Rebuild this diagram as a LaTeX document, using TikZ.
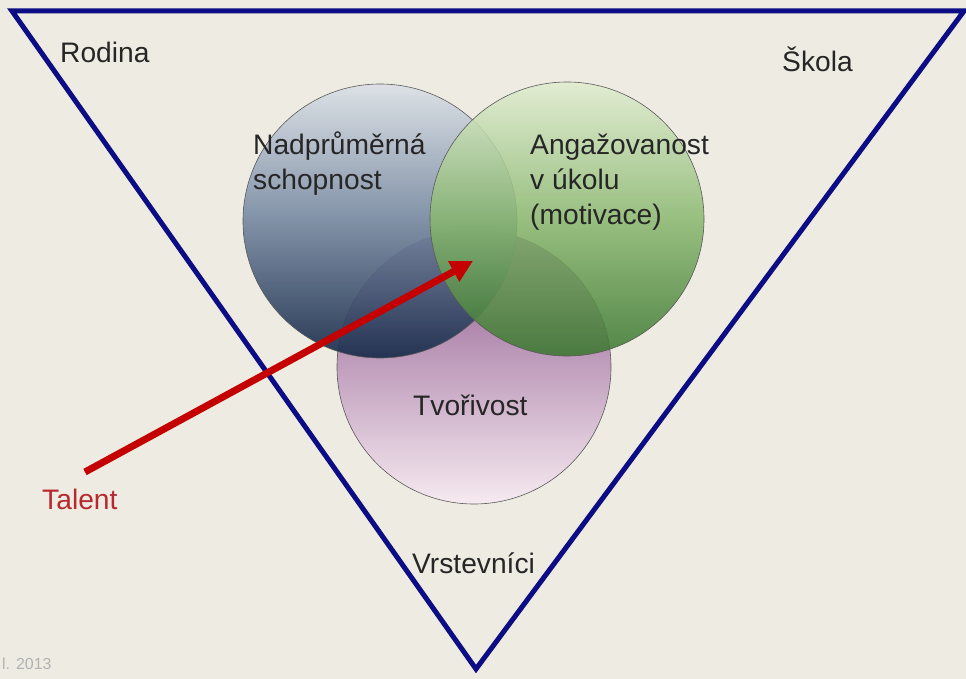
\documentclass[tikz,border=0pt]{standalone}
\usepackage{fontspec}
\setmainfont{Liberation Sans}
\usetikzlibrary{arrows.meta}
\definecolor{bg}{HTML}{EEECE2}
\definecolor{navy}{HTML}{0C0C85}
\definecolor{txt}{HTML}{262626}
\definecolor{talentred}{HTML}{B8282E}
\definecolor{arrowred}{HTML}{C40000}
\tikzset{
  venn/.style={circle, minimum size=274bp, inner sep=0pt, draw=black!65, line width=0.6bp},
  lbl/.style={font=\fontsize{28.3}{34.5}\selectfont, text=txt, inner sep=0pt, anchor=base west},
  tri/.style={draw=navy, line width=5bp, line join=miter},
  talentarrow/.style={draw=arrowred, line width=7bp, -{Triangle[length=22bp,width=22bp]}}
}
\begin{document}
\begin{tikzpicture}[x=1bp,y=-1bp]
  \fill[bg] (0,0) rectangle (966,679);
  \useasboundingbox (0,0) rectangle (966,679);
  % circles
  \node[venn, top color={rgb,255:red,140;green,85;blue,140}, middle color={rgb,255:red,205;green,170;blue,205}, bottom color={rgb,255:red,246;green,234;blue,240}] (tvor) at (474,367) {};
  \node[venn, fill opacity=0.93, top color={rgb,255:red,220;green,225;blue,231}, bottom color={rgb,255:red,26;green,44;blue,76}, middle color={rgb,255:red,120;green,138;blue,162}] (nadp) at (380,221) {};
  \node[venn, fill opacity=0.86, top color={rgb,255:red,224;green,237;blue,208}, bottom color={rgb,255:red,56;green,118;blue,46}, middle color={rgb,255:red,138;green,184;blue,112}] (anga) at (567,219) {};
  % triangle
  \coordinate (tl) at (12,11);
  \coordinate (tr) at (964,11);
  \coordinate (bt) at (476,669);
  \draw[tri] (tl) -- (tr) -- (bt) -- cycle;
  % labels
  \node[lbl] (rodina) at (60,63) {Rodina};
  \node[lbl] (skola) at (782,72) {Škola};
  \node[lbl] (nad1) at (253,155) {Nadprůměrná};
  \node[lbl] (nad2) at (253,190) {schopnost};
  \node[lbl] (ang1) at (530,155) {Angažovanost};
  \node[lbl] (ang2) at (530,190) {v úkolu};
  \node[lbl] (ang3) at (530,224) {(motivace)};
  \node[lbl] (tvlbl) at (413,415) {Tvořivost};
  \node[lbl] (vrst) at (412,573) {Vrstevníci};
  \node[lbl, text=talentred] (talent) at (42,509) {Talent};
  \node[font=\fontsize{16}{18}\selectfont, text=black!30, inner sep=0pt, anchor=base west] (year) at (2,669) {l. 2013};
  % arrow
  \coordinate (astart) at (85,472);
  \coordinate (atip) at (473,261);
  \draw[talentarrow] (astart) -- (atip);
\end{tikzpicture}
\end{document}
